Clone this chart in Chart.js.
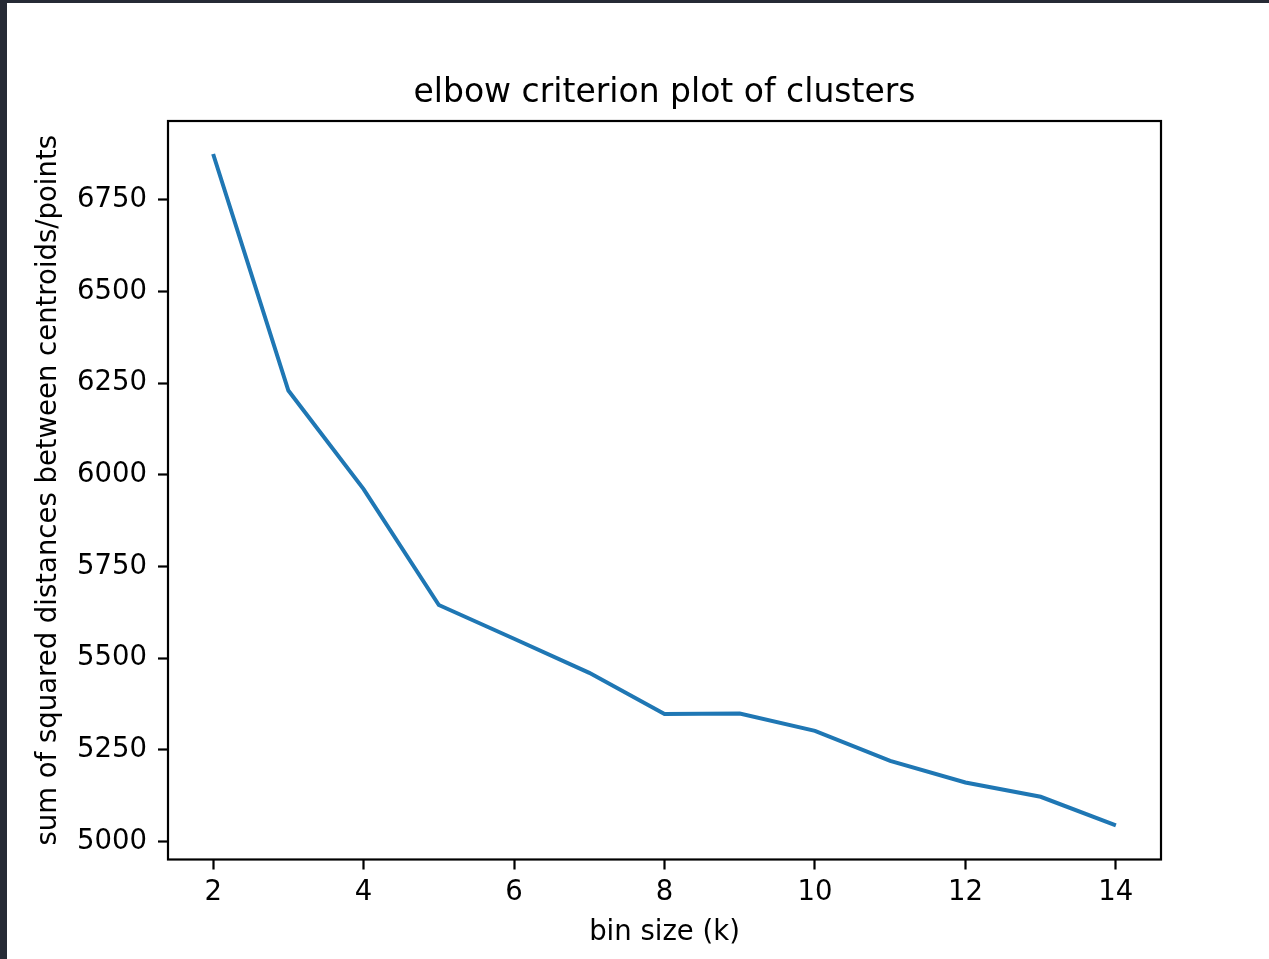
<!DOCTYPE html>
<html>
<head>
<meta charset="utf-8">
<title>elbow criterion plot of clusters</title>
<script src="https://cdn.jsdelivr.net/npm/chart.js@4.4.1/dist/chart.umd.min.js"></script>
<style>
  html, body { margin: 0; padding: 0; background: #262a35; }
  #wrap { position: absolute; left: 7px; top: 3px; width: 1262px; height: 956px; background: #ffffff; }
  canvas { display: block; }
</style>
</head>
<body>
<div id="wrap"><canvas id="chart" width="1262" height="956"></canvas></div>
<script>
// cluster count (k) and the SSE
const binSizes = [2, 3, 4, 5, 6, 7, 8, 9, 10, 11, 12, 13, 14];
const sumSquaredDist = [6875, 6230, 5961, 5645, 5553, 5460, 5348, 5349, 5302, 5220, 5161, 5122, 5044];

const xTicks = [2, 4, 6, 8, 10, 12, 14];
const yTicks = [5000, 5250, 5500, 5750, 6000, 6250, 6500, 6750];

const FONT = "'DejaVu Sans', sans-serif";
const INK = '#000000';

// matplotlib-style box around the axes
const frameBox = {
    id: 'frameBox',
    afterDraw(chart) {
        const { ctx, chartArea: a } = chart;
        ctx.save();
        ctx.strokeStyle = INK;
        ctx.lineWidth = 2.2;
        ctx.strokeRect(a.left, a.top, a.right - a.left, a.bottom - a.top);
        ctx.restore();
    },
};

const tickGrid = {
    drawOnChartArea: false,
    drawTicks: true,
    tickLength: 10,
    tickWidth: 2.2,
    tickColor: INK,
};

new Chart(document.getElementById('chart'), {
    type: 'line',
    data: {
        datasets: [{
            data: binSizes.map((k, i) => ({ x: k, y: sumSquaredDist[i] })),
            borderColor: '#1f77b4',
            borderWidth: 4,
            pointRadius: 0,
            tension: 0,
            fill: false,
        }],
    },
    options: {
        responsive: false,
        animation: false,
        devicePixelRatio: 1,
        layout: { padding: { left: 0, right: 108, top: 0, bottom: 0 } },
        plugins: {
            legend: { display: false },
            tooltip: { enabled: false },
            title: {
                display: true,
                fullSize: false,
                text: 'elbow criterion plot of clusters',
                color: INK,
                font: { family: FONT, size: 33, weight: 'normal', lineHeight: 1.2 },
                padding: { top: 71, bottom: 7.4 },
            },
        },
        scales: {
            x: {
                type: 'linear',
                min: 1.4,
                max: 14.6,
                afterFit: (s) => { s.height = 99.5; },
                afterBuildTicks: (s) => { s.ticks = xTicks.map(v => ({ value: v })); },
                grid: tickGrid,
                border: { display: false },
                ticks: {
                    color: INK,
                    padding: 7,
                    maxRotation: 0,
                    autoSkip: false,
                    font: { family: FONT, size: 27.5 },
                },
                title: {
                    display: true,
                    text: 'bin size (k)',
                    color: INK,
                    font: { family: FONT, size: 27.5, lineHeight: 1.2 },
                    padding: { top: 0, bottom: 10 },
                },
            },
            y: {
                type: 'linear',
                min: 4951,
                max: 6965,
                afterFit: (s) => { s.width = 161; },
                afterBuildTicks: (s) => { s.ticks = yTicks.map(v => ({ value: v })); },
                grid: tickGrid,
                border: { display: false },
                ticks: {
                    color: INK,
                    padding: 11,
                    autoSkip: false,
                    font: { family: FONT, size: 27.5 },
                    callback: (v) => String(v),
                },
                title: {
                    display: true,
                    text: 'sum of squared distances between centroids/points',
                    color: INK,
                    font: { family: FONT, size: 27.5, lineHeight: 1.2 },
                    padding: { top: 25, bottom: 0 },
                },
            },
        },
    },
    plugins: [frameBox],
});
</script>
</body>
</html>
